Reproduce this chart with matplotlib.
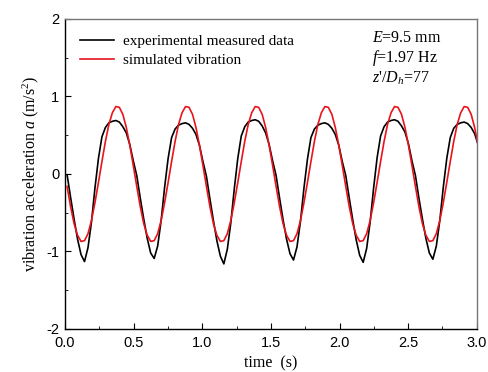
import numpy as np
import matplotlib
matplotlib.use("Agg")
import matplotlib.pyplot as plt
from matplotlib.ticker import MultipleLocator, FormatStrFormatter

plt.rcParams['font.family'] = 'Liberation Serif'
plt.rcParams['mathtext.fontset'] = 'custom'
plt.rcParams['mathtext.rm'] = 'Liberation Serif'
plt.rcParams['mathtext.it'] = 'Liberation Serif:italic'

# sampling of both series (s)
t0 = 0.015
dt = 0.02538

# measured acceleration (m/s^2), one row per cycle
accel_exp = [
    -0.01, -0.30, -0.58, -0.84, -1.04, -1.13, -0.95, -0.62, -0.18, 0.20,
    0.48, 0.60, 0.66, 0.68, 0.69, 0.67, 0.61, 0.53, 0.38, 0.17,
    -0.02, -0.31, -0.58, -0.83, -1.02, -1.09, -0.93, -0.60, -0.17, 0.20,
    0.47, 0.58, 0.63, 0.65, 0.66, 0.64, 0.59, 0.51, 0.37, 0.16,
    -0.03, -0.32, -0.60, -0.86, -1.06, -1.16, -0.97, -0.63, -0.19, 0.20,
    0.49, 0.61, 0.67, 0.69, 0.70, 0.68, 0.62, 0.53, 0.38, 0.17,
    -0.02, -0.31, -0.59, -0.84, -1.03, -1.11, -0.94, -0.61, -0.18, 0.19,
    0.47, 0.58, 0.63, 0.65, 0.66, 0.64, 0.59, 0.51, 0.37, 0.16,
    -0.02, -0.31, -0.59, -0.85, -1.05, -1.14, -0.96, -0.62, -0.18, 0.21,
    0.49, 0.61, 0.67, 0.69, 0.70, 0.68, 0.62, 0.54, 0.39, 0.17,
    -0.02, -0.31, -0.58, -0.83, -1.02, -1.10, -0.93, -0.60, -0.17, 0.20,
    0.47, 0.59, 0.64, 0.66, 0.67, 0.65, 0.60, 0.52, 0.38, 0.16,
]

# simulated acceleration (m/s^2)
accel_sim = [
    -0.16, -0.42, -0.64, -0.79, -0.87, -0.86, -0.77, -0.60, -0.37, -0.11,
    0.16, 0.42, 0.64, 0.79, 0.87, 0.86, 0.77, 0.60, 0.37, 0.11,
    -0.16, -0.42, -0.64, -0.79, -0.87, -0.86, -0.77, -0.60, -0.37, -0.11,
    0.16, 0.42, 0.64, 0.79, 0.87, 0.86, 0.77, 0.60, 0.37, 0.11,
    -0.16, -0.42, -0.64, -0.79, -0.87, -0.86, -0.77, -0.60, -0.37, -0.11,
    0.16, 0.42, 0.64, 0.79, 0.87, 0.86, 0.77, 0.60, 0.37, 0.11,
    -0.16, -0.42, -0.64, -0.79, -0.87, -0.86, -0.77, -0.60, -0.37, -0.11,
    0.16, 0.42, 0.64, 0.79, 0.87, 0.86, 0.77, 0.60, 0.37, 0.11,
    -0.16, -0.42, -0.64, -0.79, -0.87, -0.86, -0.77, -0.60, -0.37, -0.11,
    0.16, 0.42, 0.64, 0.79, 0.87, 0.86, 0.77, 0.60, 0.37, 0.11,
    -0.16, -0.42, -0.64, -0.79, -0.87, -0.86, -0.77, -0.60, -0.37, -0.11,
    0.16, 0.42, 0.64, 0.79, 0.87, 0.86, 0.77, 0.60, 0.37, 0.11,
]

labels = ["experimental measured data", "simulated vibration"]
notes = ["$E$=9.5 mm", "$f$=1.97 Hz", "$z$'/$D_h$=77"]

t = t0 + dt * np.arange(len(accel_exp))

fig = plt.figure(figsize=(4.89, 3.72), dpi=100)
ax = fig.add_axes([0.133, 0.1156, 0.842, 0.8334])

ax.plot(t, accel_exp, color='black', lw=1.2, label=labels[0])
ax.plot(t, accel_sim, color='#e8141c', lw=1.2, label=labels[1])

ax.set_xlim(0, 3.0)
ax.set_ylim(-2, 2)
ax.xaxis.set_major_locator(MultipleLocator(0.5))
ax.xaxis.set_minor_locator(MultipleLocator(0.25))
ax.yaxis.set_major_locator(MultipleLocator(1))
ax.yaxis.set_minor_locator(MultipleLocator(0.5))
ax.xaxis.set_major_formatter(FormatStrFormatter('%.1f'))
ax.yaxis.set_major_formatter(FormatStrFormatter('%d'))
ax.tick_params(which='both', direction='in', top=False, right=False)
ax.tick_params(which='major', length=4, labelsize=10.5)
ax.tick_params(which='minor', length=2.5)
ax.tick_params(axis='x', which='major', pad=5)
ax.tick_params(axis='y', which='major', pad=4)
for lab in ax.get_xticklabels() + ax.get_yticklabels():
    lab.set_fontfamily('Liberation Sans')

for side in ['top', 'right']:
    ax.spines[side].set_color('#777777')
for side in ax.spines:
    ax.spines[side].set_linewidth(1.0)

ax.set_xlabel("time  (s)", fontsize=11.5)
ax.set_ylabel("vibration acceleration $a$ (m/s$^2$)", fontsize=11.5)

ax.legend(loc='upper left', frameon=False, fontsize=11, handlelength=2.2,
          handletextpad=0.6, labelspacing=0.35, borderaxespad=0.6)

for i, s in enumerate(notes):
    ax.text(0.745, 0.94 - i * 0.066, s, transform=ax.transAxes, fontsize=11.5,
            va='center', ha='left')

fig.savefig("out.png", dpi=100)
